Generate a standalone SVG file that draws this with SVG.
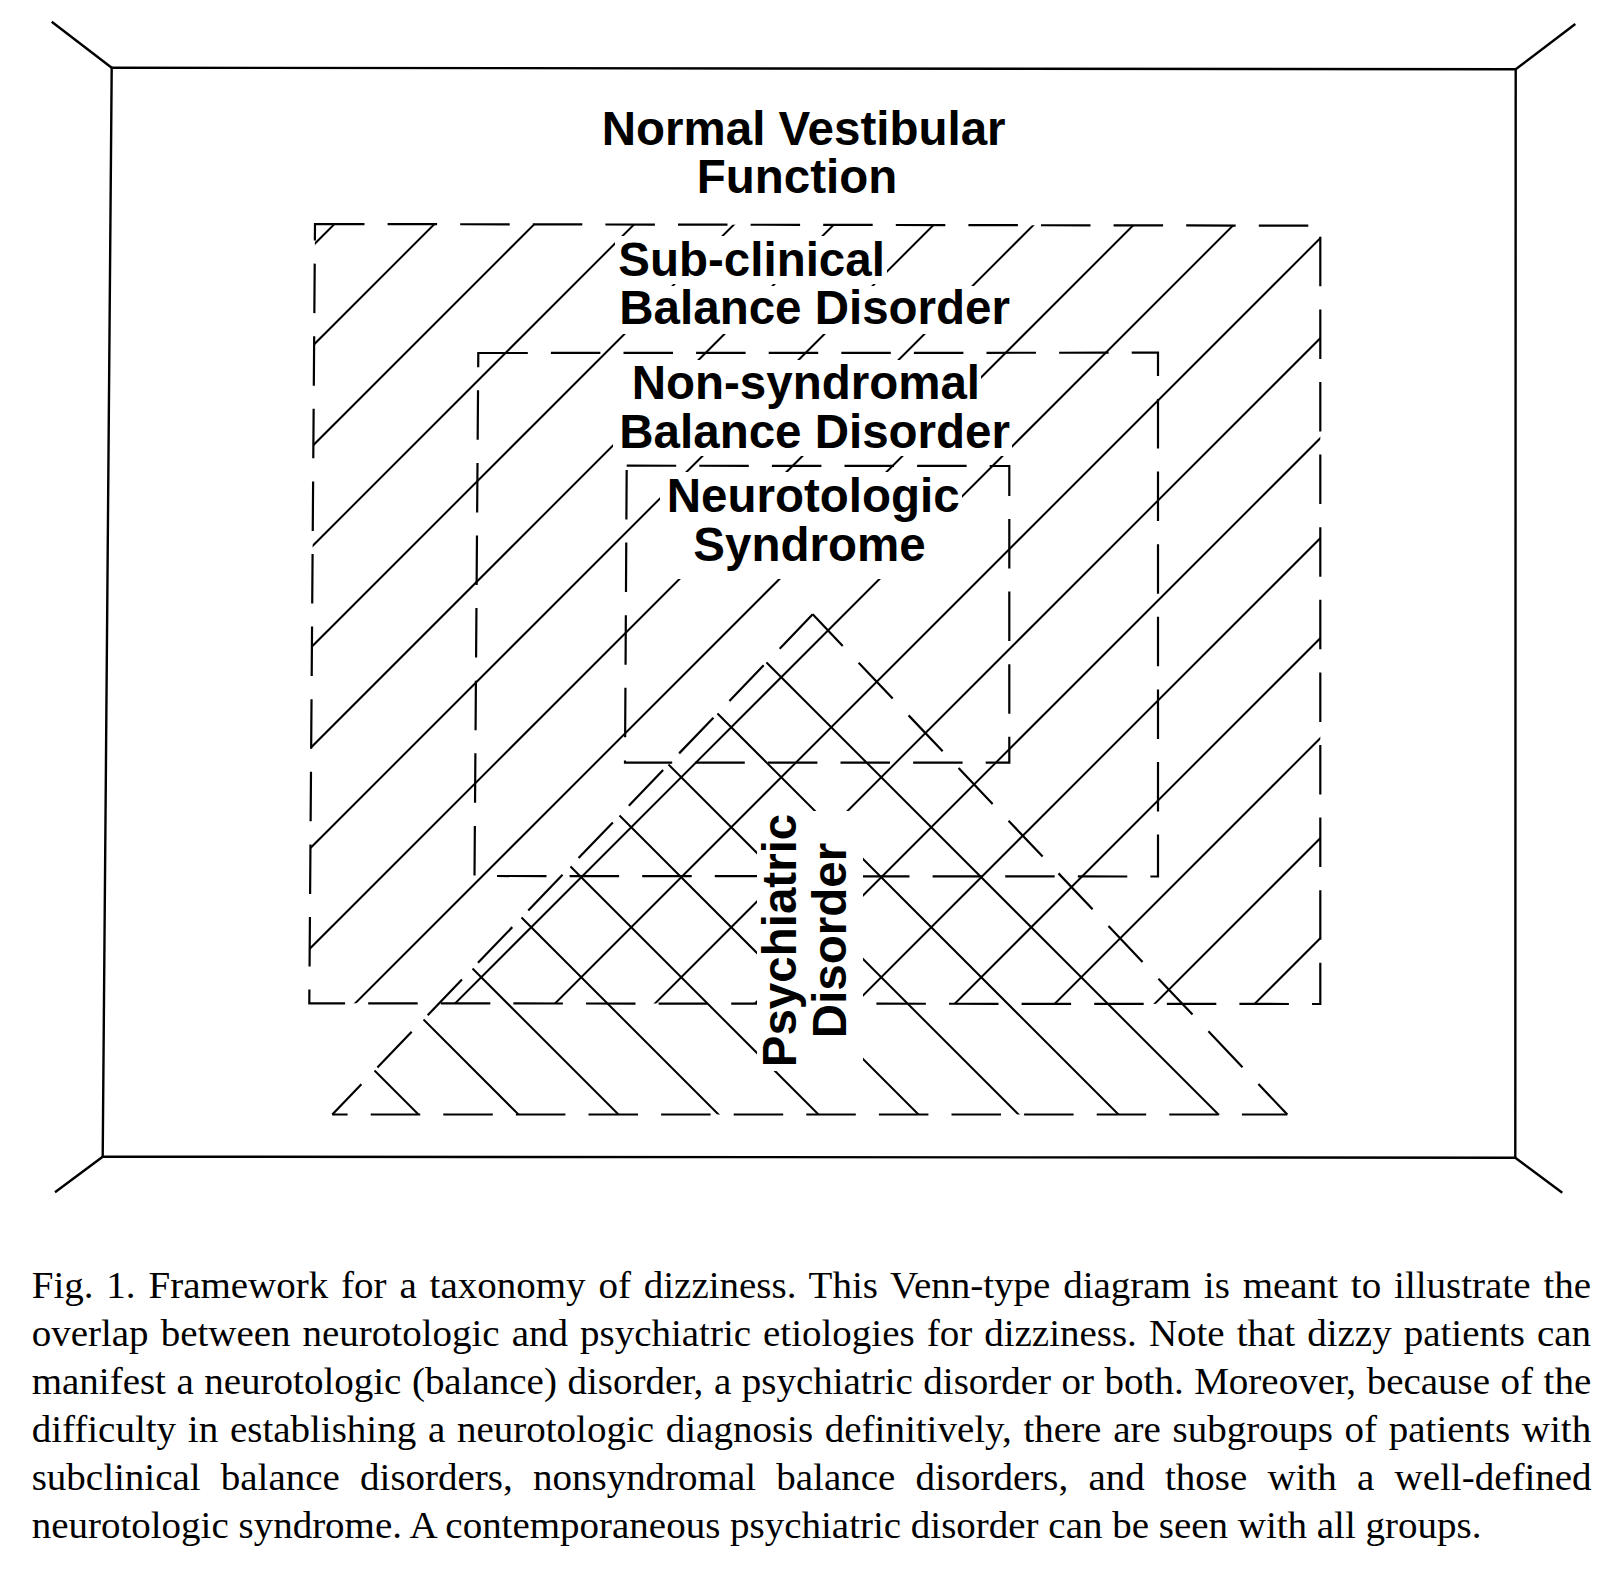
<svg xmlns="http://www.w3.org/2000/svg" width="1618" height="1576" viewBox="0 0 1618 1576">
<style>
.frame{fill:none;stroke:#000;stroke-width:2.4;stroke-linejoin:miter}
.dash{fill:none;stroke:#000;stroke-width:2.2;stroke-dasharray:49.5 23.1}
.hatch{fill:none;stroke:#000;stroke-width:2}
.mask{fill:#fff;stroke:none}
.lbl{font-family:"Liberation Sans",Arial,Helvetica,sans-serif;font-weight:bold;font-size:47.5px;fill:#000}
.cap{font-family:"Liberation Serif","Times New Roman",serif;font-size:37px;fill:#000;font-variant-ligatures:none}
</style>
<defs>
<clipPath id="clipOuter"><polygon points="315,224 1320.3,225.7 1320.3,1004 309.3,1003.3"/></clipPath>
<clipPath id="clipTri"><polygon points="812.7,614.3 1287.3,1114.5 332.3,1114.5"/></clipPath>
</defs>
<rect width="1618" height="1576" fill="#fff"/>

<g id="frame-normal-vestibular-function">
<polygon class="frame" points="111.7,67.7 1515.7,69.3 1515.3,1157.7 102.7,1156.7"/>
<line class="frame" x1="51.7" y1="21.7" x2="111.7" y2="67.7"/>
<line class="frame" x1="1575.3" y1="24" x2="1515.7" y2="69.3"/>
<line class="frame" x1="55" y1="1192.3" x2="102.7" y2="1156.7"/>
<line class="frame" x1="1562.3" y1="1192.7" x2="1515.3" y2="1157.7"/>
<text class="lbl"><tspan x="601.7" y="144.6">Normal Vestibular</tspan><tspan x="696.7" y="193.4">Function</tspan></text>
</g>

<g id="hatching">
<g clip-path="url(#clipOuter)">
<path class="hatch" d="M-451.5,1010L343.5,215M-351.5,1010L443.5,215M-251.5,1010L543.5,215M-151.5,1010L643.5,215M-51.5,1010L743.5,215M48.5,1010L843.5,215M148.5,1010L943.5,215M248.5,1010L1043.5,215M348.5,1010L1143.5,215M448.5,1010L1243.5,215M548.5,1010L1343.5,215M648.5,1010L1443.5,215M748.5,1010L1543.5,215M848.5,1010L1643.5,215M948.5,1010L1743.5,215M1048.5,1010L1843.5,215M1148.5,1010L1943.5,215M1248.5,1010L2043.5,215"/>
</g>
<g clip-path="url(#clipTri)">
<path class="hatch" d="M-96,600L434,1130M4,600L534,1130M104,600L634,1130M204,600L734,1130M304,600L834,1130M404,600L934,1130M504,600L1034,1130M604,600L1134,1130M704,600L1234,1130"/>
</g>
</g>

<g id="subclinical-balance-disorder">
<path class="dash" d="M315,224L1320.3,225.7L1320.3,1004L309.3,1003.3Z"/>
<rect class="mask" x="615" y="236" width="272" height="48"/>
<rect class="mask" x="613" y="286" width="399" height="48"/>
<text class="lbl"><tspan x="618.3" y="276">Sub-clinical</tspan><tspan x="619.3" y="324.3">Balance Disorder</tspan></text>
</g>

<g id="nonsyndromal-balance-disorder">
<path class="dash" d="M478.3,353L1158,352.7L1158,876.5L474.5,876Z"/>
<rect class="mask" x="625" y="360" width="356" height="58"/>
<rect class="mask" x="613" y="409" width="399" height="47"/>
<text class="lbl"><tspan x="631.7" y="399.2">Non-syndromal</tspan><tspan x="619.3" y="447.8">Balance Disorder</tspan></text>
</g>

<g id="neurotologic-syndrome">
<path class="dash" d="M626.7,465.7L1009.3,466L1009.3,762.7L625,762.7Z"/>
<rect class="mask" x="660" y="472" width="302" height="60"/>
<rect class="mask" x="676" y="522" width="252" height="57"/>
<text class="lbl"><tspan x="666.7" y="512.4">Neurotologic</tspan><tspan x="693.3" y="561">Syndrome</tspan></text>
</g>

<g id="psychiatric-disorder">
<line class="dash" x1="332.3" y1="1114.5" x2="1287.3" y2="1114.5" style="stroke-dashoffset:34.2"/>
<line class="dash" x1="332.3" y1="1114.5" x2="812.7" y2="614.3" style="stroke-dashoffset:7.5"/>
<line class="dash" x1="1287.3" y1="1114.5" x2="812.7" y2="614.3" style="stroke-dashoffset:7.5"/>
<rect class="mask" x="757" y="811" width="106" height="260"/>
<text class="lbl" transform="translate(795.5,940.5) rotate(-90)" text-anchor="middle"><tspan x="0" y="0">Psychiatric</tspan><tspan x="0" y="50.5">Disorder</tspan></text>
</g>

<g id="caption" transform="translate(31.7,0) scale(1.054,1)">
<text class="cap" x="0" y="1298.5" word-spacing="2.98">Fig. 1. Framework for a taxonomy of dizziness. This Venn-type diagram is meant to illustrate the</text>
<text class="cap" x="0" y="1346.4" word-spacing="2.18">overlap between neurotologic and psychiatric etiologies for dizziness. Note that dizzy patients can</text>
<text class="cap" x="0" y="1394.3" word-spacing="0.75">manifest a neurotologic (balance) disorder, a psychiatric disorder or both. Moreover, because of the</text>
<text class="cap" x="0" y="1442.2" word-spacing="1.91">difficulty in establishing a neurotologic diagnosis definitively, there are subgroups of patients with</text>
<text class="cap" x="0" y="1490.1" word-spacing="9.95">subclinical balance disorders, nonsyndromal balance disorders, and those with a well-defined</text>
<text class="cap" x="0" y="1538">neurotologic syndrome. A contemporaneous psychiatric disorder can be seen with all groups.</text>
</g>
</svg>
